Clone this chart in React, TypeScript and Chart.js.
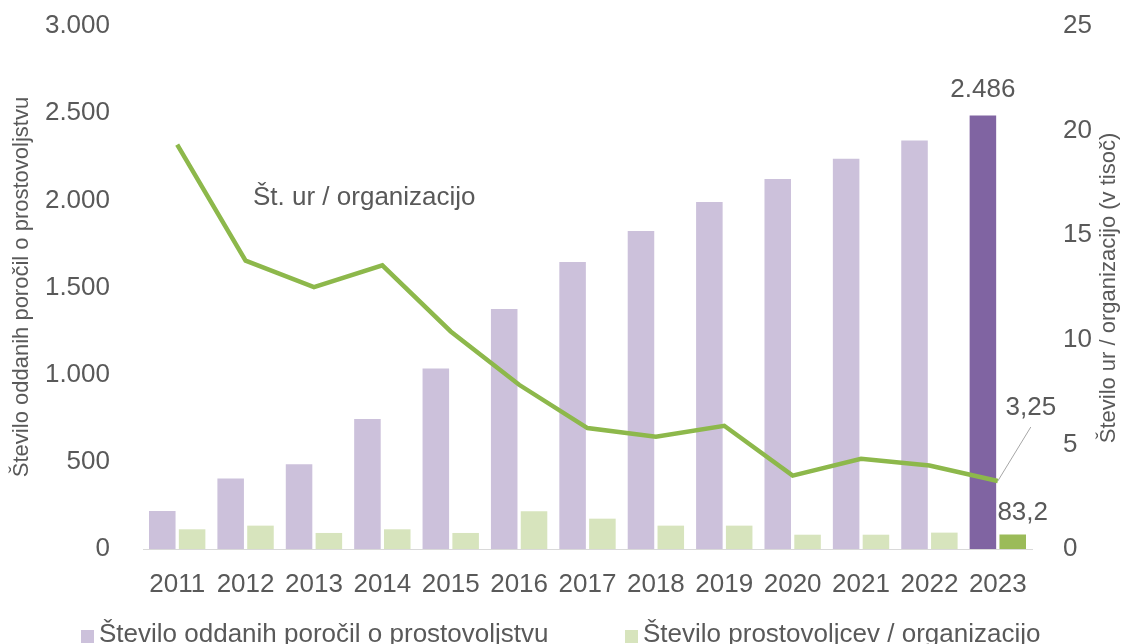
import React, { useEffect, useRef } from 'react';
import { Chart, registerables } from 'chart.js';

Chart.register(...registerables);

const years = ['2011', '2012', '2013', '2014', '2015', '2016', '2017', '2018', '2019', '2020', '2021', '2022', '2023'];
const reports = [218, 404, 486, 745, 1035, 1376, 1646, 1824, 1991, 2123, 2238, 2343, 2486];
const volunteersPerOrg = [113, 134, 92, 113, 92, 216, 174, 134, 134, 82, 82, 94, 83.2];
const hoursPerOrg = [19.33, 13.78, 12.52, 13.56, 10.4, 7.85, 5.78, 5.37, 5.89, 3.51, 4.31, 3.99, 3.25];

const reportsLabel = 'Število oddanih poročil o prostovoljstvu';
const volunteersLabel = 'Število prostovoljcev / organizacijo';
const hoursLabel = 'Št. ur / organizacijo';
const leftTitle = 'Število oddanih poročil o prostovoljstvu';
const rightTitle = 'Število ur / organizacijo (v tisoč)';

const leftMax = 3000;
const leftStep = 500;
const rightMax = 25;
const rightStep = 5;

const TEXT = '#595959';
const FONT = 'Liberation Sans, Arial, sans-serif';
const PURPLE_LIGHT = '#CCC1DB';
const PURPLE_DARK = '#8064A2';
const GREEN_LIGHT = '#D7E4BD';
const GREEN_DARK = '#9BBB59';
const LINE_GREEN = '#8DB84B';

function fmt(n: number, decimals = 0): string {
  const s = n.toFixed(decimals);
  const [i, d] = s.split('.');
  const ii = i.replace(/\B(?=(\d{3})+(?!\d))/g, '.');
  return d ? ii + ',' + d : ii;
}

const annotationPlugin = {
  id: 'annotations',
  afterDatasetsDraw(chart: any) {
    const ctx = chart.ctx as CanvasRenderingContext2D;
    ctx.save();
    ctx.fillStyle = TEXT;

    // axis titles
    ctx.font = `22px ${FONT}`;
    ctx.textAlign = 'center';
    ctx.textBaseline = 'middle';
    ctx.save();
    ctx.translate(22, 287);
    ctx.rotate(-Math.PI / 2);
    ctx.fillText(leftTitle, 0, 0);
    ctx.restore();
    ctx.save();
    ctx.translate(1109, 288);
    ctx.rotate(-Math.PI / 2);
    ctx.fillText(rightTitle, 0, 0);
    ctx.restore();

    // data labels
    ctx.font = `26px ${FONT}`;
    const last = years.length - 1;
    const bar1 = chart.getDatasetMeta(0).data[last];
    const bar2 = chart.getDatasetMeta(1).data[last];
    const pt = chart.getDatasetMeta(2).data[last];
    ctx.textAlign = 'center';
    ctx.textBaseline = 'middle';
    ctx.fillText(fmt(reports[last]), bar1.x, bar1.y - 26);
    ctx.fillText(fmt(volunteersPerOrg[last], 1), bar2.x + 10, bar2.y - 22);
    ctx.fillText(fmt(hoursPerOrg[last], 2), pt.x + 33, pt.y - 73);
    ctx.strokeStyle = '#A6A6A6';
    ctx.lineWidth = 1;
    ctx.beginPath();
    ctx.moveTo(pt.x, pt.y);
    ctx.lineTo(pt.x + 33, pt.y - 54);
    ctx.stroke();

    // series label for the line
    ctx.textAlign = 'left';
    ctx.fillText(hoursLabel, 253, 198);

    // legend
    const items = [
      { label: reportsLabel, color: PURPLE_LIGHT, x: 81 },
      { label: volunteersLabel, color: GREEN_LIGHT, x: 625 },
    ];
    const box = 13;
    const baseline = 642;
    ctx.textBaseline = 'alphabetic';
    items.forEach((it) => {
      ctx.fillStyle = it.color;
      ctx.fillRect(it.x, baseline - 12, box, box);
      ctx.fillStyle = TEXT;
      ctx.fillText(it.label, it.x + box + 5, baseline);
    });
    ctx.restore();
  },
};

export default function App() {
  const ref = useRef<HTMLCanvasElement | null>(null);
  useEffect(() => {
    document.body.style.margin = '0';
    const canvas = ref.current!;
    const last = years.length - 1;
    const chart = new Chart(canvas, {
      type: 'bar',
      data: {
        labels: years,
        datasets: [
          {
            type: 'bar',
            label: reportsLabel,
            data: reports,
            backgroundColor: reports.map((_, i) => (i === last ? PURPLE_DARK : PURPLE_LIGHT)),
            borderWidth: 0,
            yAxisID: 'y',
            order: 1,
            categoryPercentage: 0.872,
            barPercentage: 0.89,
          },
          {
            type: 'bar',
            label: volunteersLabel,
            data: volunteersPerOrg,
            backgroundColor: volunteersPerOrg.map((_, i) => (i === last ? GREEN_DARK : GREEN_LIGHT)),
            borderWidth: 0,
            yAxisID: 'y',
            order: 1,
            categoryPercentage: 0.872,
            barPercentage: 0.89,
          },
          {
            type: 'line',
            label: hoursLabel,
            data: hoursPerOrg,
            borderColor: LINE_GREEN,
            backgroundColor: LINE_GREEN,
            borderWidth: 4.5,
            pointRadius: 0,
            tension: 0,
            yAxisID: 'y1',
            order: 0,
          },
        ] as any,
      },
      options: {
        animation: false,
        responsive: false,
        maintainAspectRatio: false,
        layout: { padding: { top: 26, left: 0, right: 0, bottom: 0 } },
        plugins: { legend: { display: false }, tooltip: { enabled: false } },
        scales: {
          x: {
            grid: { display: false },
            border: { display: true, color: '#D9D9D9', width: 1 },
            ticks: { color: TEXT, font: { family: FONT, size: 26 }, padding: 12, maxRotation: 0, autoSkip: false },
            afterFit: (s: any) => { s.height = 95; },
          },
          y: {
            position: 'left',
            min: 0,
            max: leftMax,
            grid: { display: false },
            border: { display: false },
            ticks: { stepSize: leftStep, color: TEXT, font: { family: FONT, size: 26 }, padding: 25, callback: (v: any) => fmt(Number(v)) },
            afterFit: (s: any) => { s.width = 143; s.paddingTop = 0; s.paddingBottom = 0; },
          },
          y1: {
            position: 'right',
            min: 0,
            max: rightMax,
            grid: { display: false },
            border: { display: false },
            ticks: { stepSize: rightStep, color: TEXT, font: { family: FONT, size: 26 }, padding: 23, callback: (v: any) => fmt(Number(v)) },
            afterFit: (s: any) => { s.width = 92; s.paddingTop = 0; s.paddingBottom = 0; },
          },
        },
      } as any,
      plugins: [annotationPlugin],
    });
    return () => chart.destroy();
  }, []);
  return (
    <div style={{ width: 1124, height: 644, background: '#fff' }}>
      <canvas ref={ref} width={1124} height={644} style={{ display: 'block' }} />
    </div>
  );
}
